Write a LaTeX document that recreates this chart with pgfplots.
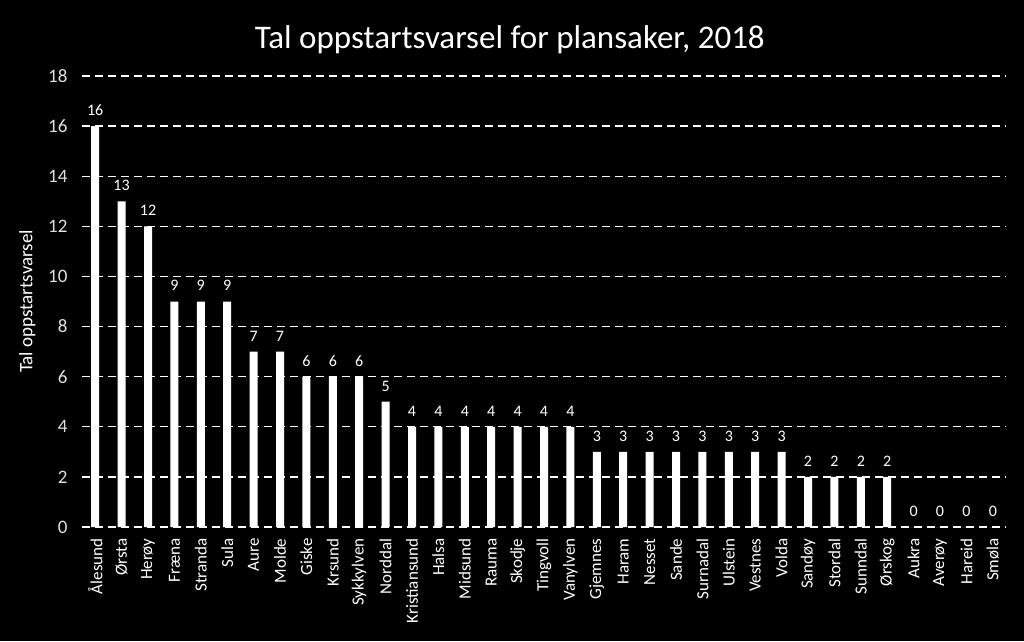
\documentclass[border=0pt]{standalone}
\usepackage{fontspec}
\setmainfont{Carlito}
\usepackage{pgfplots}
\pgfplotsset{compat=1.18}
\begin{document}
\begin{tikzpicture}
\fill[black] (0pt,0pt) rectangle (1024pt,641pt);
\useasboundingbox (0pt,0pt) rectangle (1024pt,641pt);
\begin{axis}[
  at={(82pt,114pt)}, anchor=south west,
  scale only axis, width=924pt, height=451pt,
  ymin=0, ymax=18, ytick={0,2,...,18},
  xmin=-0.5, xmax=34.5,
  xtick={0,...,34},
  xticklabels={Ålesund,Ørsta,Herøy,Fræna,Stranda,Sula,Aure,Molde,Giske,Krsund,Sykkylven,Norddal,Kristiansund,Halsa,Midsund,Rauma,Skodje,Tingvoll,Vanylven,Gjemnes,Haram,Nesset,Sande,Surnadal,Ulstein,Vestnes,Volda,Sandøy,Stordal,Sunndal,Ørskog,Aukra,Averøy,Hareid,Smøla},
  xticklabel style={rotate=90, anchor=east, font=\fontsize{17}{19}\selectfont, text=white},
  xticklabel shift=8pt,
  yticklabel style={font=\fontsize{19}{21}\selectfont, text=white!88!black},
  yticklabel shift=11pt,
  /pgf/number format/assume math mode=true,
  axis line style={draw=none},
  major tick length=0pt,
  ymajorgrids,
  grid style={white, line width=1.4pt, dash pattern=on 8pt off 5pt},
  ylabel={Tal oppstartsvarsel},
  ylabel style={font=\fontsize{19}{21}\selectfont, text=white},
  ylabel shift=6pt,
  title={Tal oppstartsvarsel for plansaker, 2018},
  title style={font=\fontsize{33}{36}\selectfont, text=white, at={(axis description cs:0.463,1)}, yshift=13pt},
  nodes near coords,
  every node near coord/.append style={font=\fontsize{16}{18}\selectfont, text=white, yshift=7pt},
  ybar, bar width=8pt,
  clip=false,
]
\addplot[fill=white, draw=none] coordinates {
(0,16) (1,13) (2,12) (3,9) (4,9) (5,9) (6,7) (7,7) (8,6) (9,6) (10,6) (11,5)
(12,4) (13,4) (14,4) (15,4) (16,4) (17,4) (18,4)
(19,3) (20,3) (21,3) (22,3) (23,3) (24,3) (25,3) (26,3)
(27,2) (28,2) (29,2) (30,2)
(31,0) (32,0) (33,0) (34,0)
};
\end{axis}
\end{tikzpicture}
\end{document}
